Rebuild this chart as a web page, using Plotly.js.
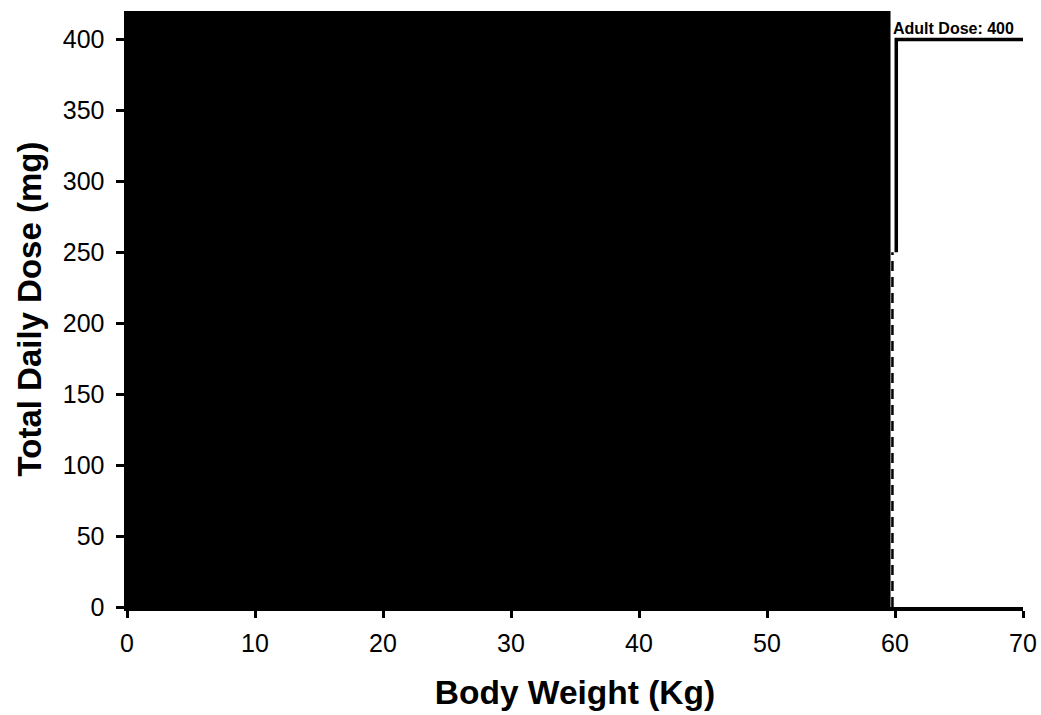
<!DOCTYPE html>
<html>
<head>
<meta charset="utf-8">
<script src="https://cdn.plot.ly/plotly-3.0.1.min.js"></script>
<style>html,body{margin:0;padding:0;background:#fff;}#chart{width:1041px;height:715px;}</style>
</head>
<body>
<div id="chart"></div>
<script>
// Region densely filled by pediatric dose curves (reads as solid black)
const fillX = [0, 59.65, 59.65, 0, 0];
const fillY = [0, 0, 420, 420, 0];
// Adult dose step
const adultX = [60.1, 60.1, 70];
const adultY = [250, 400, 400];
// Dashed threshold at 60 kg
const dashX = [59.8, 59.8];
const dashY = [0, 250];
const xTicks = [0, 10, 20, 30, 40, 50, 60, 70];
const yTicks = [0, 50, 100, 150, 200, 250, 300, 350, 400];
const adultLabel = 'Adult Dose: 400';

const font = 'Liberation Sans, Arial, sans-serif';
const traces = [
  {x: fillX, y: fillY, type: 'scatter', mode: 'lines', fill: 'toself',
   fillcolor: '#000', line: {color: '#000', width: 0}, hoverinfo: 'skip'},
  {x: dashX, y: dashY, type: 'scatter', mode: 'lines',
   line: {color: '#000', width: 2.5, dash: '10px,6px'}},
  {x: adultX, y: adultY, type: 'scatter', mode: 'lines',
   line: {color: '#000', width: 3.5}}
];
const layout = {
  width: 1041, height: 715,
  margin: {l: 127, r: 18, t: 11, b: 108},
  paper_bgcolor: '#fff', plot_bgcolor: '#fff',
  showlegend: false,
  font: {family: font, color: '#000'},
  xaxis: {
    range: [0, 70], tickvals: xTicks, ticktext: xTicks.map(String),
    showgrid: false, zeroline: false, showline: true, linecolor: '#000', linewidth: 3.5,
    ticks: 'outside', ticklen: 7, tickwidth: 3, tickcolor: '#000',
    tickfont: {size: 25, family: font}, ticklabelstandoff: 4,
    title: {text: '<b>Body Weight (Kg)</b>', font: {size: 33.5, family: font}, standoff: 26}
  },
  yaxis: {
    range: [0, 420], tickvals: yTicks, ticktext: yTicks.map(String),
    showgrid: false, zeroline: false, showline: true, linecolor: '#000', linewidth: 3.5,
    ticks: 'outside', ticklen: 8, tickwidth: 3, tickcolor: '#000',
    tickfont: {size: 25, family: font}, ticklabelstandoff: 6,
    title: {text: '<b>Total Daily Dose (mg)</b>', font: {size: 33, family: font}, standoff: 12}
  },
  annotations: [{
    x: adultX[1], y: adultY[1], xref: 'x', yref: 'y', text: '<b>' + adultLabel + '</b>',
    showarrow: false, xanchor: 'left', yanchor: 'bottom', xshift: -5, yshift: 0,
    font: {size: 16, family: font, color: '#000'}
  }]
};
Plotly.newPlot('chart', traces, layout, {displayModeBar: false, staticPlot: true});
</script>
</body>
</html>
